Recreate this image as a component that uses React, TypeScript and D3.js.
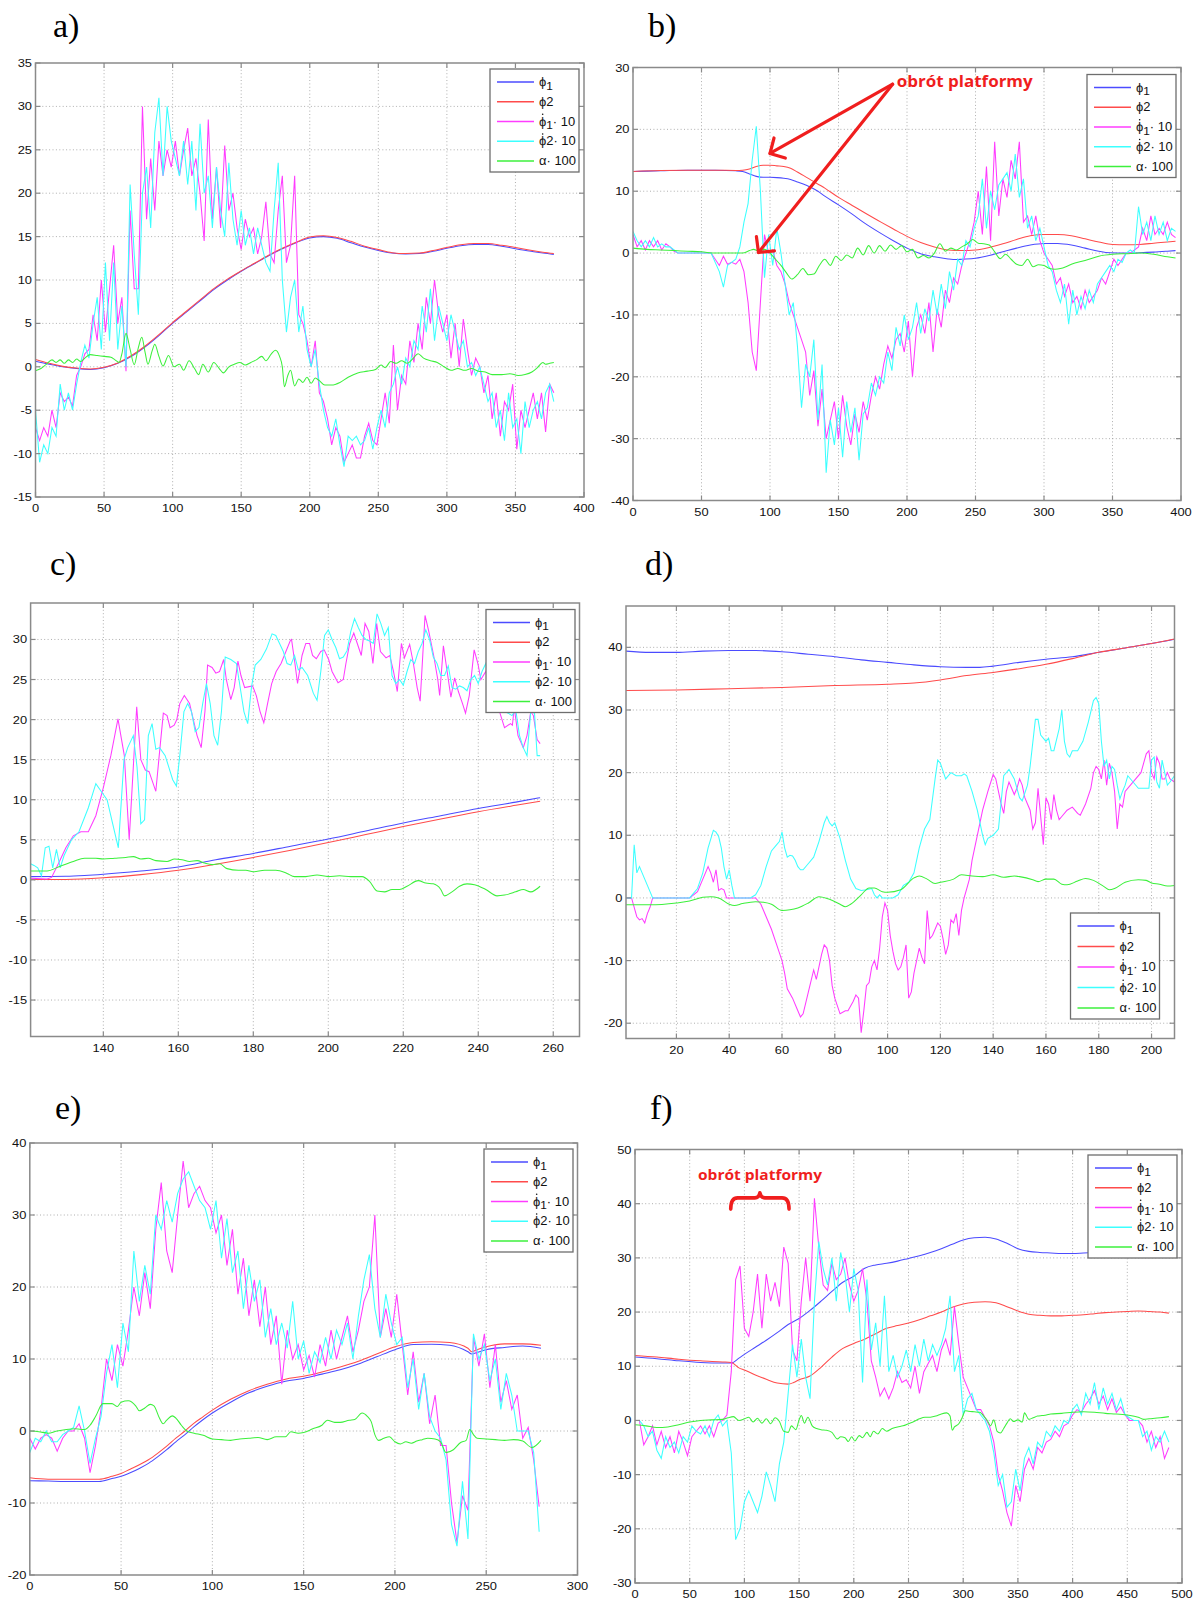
import React from "react";
import * as d3 from "d3";

type Pt = [number, number];

// ---------------- colours ----------------
const C_PHI1 = "#4b4bff";
const C_PHI2 = "#ff4b4b";
const C_PHI1DOT = "#ff3cff";
const C_PHI2DOT = "#3cffff";
const C_ALPHA = "#3cf03c";
const C_NOTE = "#f01e1e";

// ---------------- panel a ----------------
const aXTicks = [0, 50, 100, 150, 200, 250, 300, 350, 400];
const aYTicks = [-15, -10, -5, 0, 5, 10, 15, 20, 25, 30, 35];
const aPhi1: Pt[] = [[0,0.65],[10,0.3],[20,0],[30,-0.2],[40,-0.3],[50,-0.1],[60,0.4],[70,1.2],[80,2.3],[90,3.6],[100,5.0],[110,6.3],[120,7.6],[130,8.9],[140,10.0],[150,11.0],[160,11.9],[170,12.8],[180,13.6],[190,14.3],[200,14.85],[210,15.0],[220,14.8],[230,14.3],[240,13.8],[250,13.4],[260,13.1],[270,13.0],[280,13.05],[290,13.3],[300,13.65],[310,13.95],[320,14.1],[330,14.1],[340,13.9],[350,13.6],[360,13.35],[370,13.1],[378,12.95]];
const aPhi2: Pt[] = [[0,0.85],[10,0.4],[20,0.05],[30,-0.15],[40,-0.25],[50,-0.05],[60,0.45],[70,1.3],[80,2.4],[90,3.7],[100,5.1],[110,6.4],[120,7.7],[130,9.0],[140,10.1],[150,11.05],[160,11.95],[170,12.85],[180,13.65],[190,14.35],[200,14.95],[210,15.1],[220,14.9],[230,14.45],[240,13.9],[250,13.5],[260,13.15],[270,13.05],[280,13.1],[290,13.4],[300,13.75],[310,14.05],[320,14.2],[330,14.2],[340,14.0],[350,13.75],[360,13.45],[370,13.2],[378,13.05]];
const aAlpha: Pt[] = [[0,-0.45],[4,-0.2],[8,0.3],[12,0.8],[15,0.5],[18,0.8],[21,0.4],[24,0.8],[27,0.5],[30,0.9],[33,0.6],[36,1.0],[40,1.4],[45,1.3],[50,1.2],[55,1.1],[58,0.8],[61,0.5],[63,1.5],[66,3.85],[69,2.0],[72,0.25],[75,2.2],[77.5,3.4],[80,1.6],[82,0.3],[85,1.8],[87,2.6],[90,1.2],[93,0.1],[97,1.3],[101,0],[105,0.3],[108,-0.4],[112,0.7],[116,-0.2],[119,-0.9],[122,0.3],[126,-0.6],[130,0.5],[134,-0.2],[137,-0.7],[141,0],[145,0.3],[149,0.5],[153,0.2],[157,0.5],[161,0.8],[165,1.2],[168,0.7],[172,1.5],[175,1.9],[178,1.2],[180,0],[181.5,-2.3],[184,-1],[186,-0.4],[189,-2.2],[192,-1.4],[195,-1.8],[198,-1.2],[201,-1.9],[204,-1.3],[207,-1.6],[211,-2.1],[216,-2.1],[222,-1.8],[228,-1.2],[235,-0.7],[242,-0.5],[248,-0.3],[252,0.2],[255,-0.1],[259,0.6],[263,0.4],[267,0.7],[271,0.4],[275,0.9],[279,1.5],[283,1.0],[288,0.7],[293,0.5],[298,0],[303,-0.4],[308,-0.2],[313,-0.4],[318,-0.2],[323,-0.5],[328,-0.6],[333,-0.9],[340,-0.9],[346,-0.8],[352,-1.0],[357,-0.9],[362,-0.6],[366,-0.1],[370,0.5],[372,0.3],[375,0.4],[378,0.5]];
const aDotStep = 3;
const aPhi1Dot = [-7,-8.5,-7,-8,-5,-7,-3,-4,-3.5,-4.5,-1,0,1.5,2,6,3,10,4,9,14,5,8,-0.5,18,9,9,30,17,24,18,26,22,25,23,26,22,25,27.5,22,24,20,14.5,28.5,17,23,16,25.5,18,20,16,13.5,17,15,16,13,15,19,13,12,18,22,12,14,22,6,5,3,0,3,-3,-4,-6,-9,-7,-8,-11,-10,-9,-10.5,-10.5,-8,-6.5,-8.5,-9,-6,-3,-6.5,2.5,-5,-1,-2,3,0.5,5,2,8,5,10,6,4,6,1,5,0,5.5,2,-1,1,0,-3,-1,-6,-3,-8,-4,-5,-2,-9.5,-5,-7,-5,-3,-6,-3,-7.5,-2,-3];
const aPhi2Dot = [-5,-11,-9,-10,-7,-8,-2,-5,-3,-5,-2,0.5,2.5,1,5,8,2,12,3,12,2,7,0,21,13,6,20,23,16,27,31,22,30,26,24,22,26,21,26,18,28,20,22,16,23,18,15,23.5,17,14,18,14,16,13,16,14,12,11,18,23.5,10,4,8,10,4,7,2,0,2,-2,-5,-7,-8,-6,-9,-11.5,-8,-8.5,-8,-9,-8.5,-7,-9.5,-7,-5,-7,-3,-2,0,-2,1,0,3,2,7,4,9,3,7,5,3,6,4,2,3,0,0.5,-1,0,-2,-4,-3,-7,-5,-8.5,-3,-7,-6,-10,-4,-7,-5,-4,-6,-3,-2,-4];

// ---------------- panel b ----------------
const bXTicks = [0, 50, 100, 150, 200, 250, 300, 350, 400];
const bYTicks = [-40, -30, -20, -10, 0, 10, 20, 30];
const bPhi1: Pt[] = [[0,13.2],[20,13.3],[40,13.4],[60,13.4],[75,13.3],[80,13.2],[85,12.8],[90,12.4],[95,12.25],[100,12.25],[105,12.2],[110,12.1],[115,11.9],[120,11.5],[130,10.6],[135,10.0],[140,9.2],[150,7.8],[160,6.3],[168,5.0],[180,3.3],[190,2.0],[200,0.8],[210,-0.1],[220,-0.6],[230,-0.95],[236,-1.05],[240,-1.0],[250,-0.85],[260,-0.4],[270,0.2],[280,0.8],[290,1.3],[300,1.55],[310,1.55],[320,1.3],[330,0.8],[340,0.3],[348,0.05],[360,0],[370,0.05],[380,0.15],[390,0.3],[396,0.4]];
const bPhi2: Pt[] = [[0,13.2],[20,13.35],[40,13.4],[60,13.4],[75,13.35],[80,13.4],[85,13.6],[90,14.0],[95,14.2],[100,14.2],[105,14.1],[110,14.0],[115,13.7],[120,13.1],[130,11.8],[140,10.5],[150,9.0],[160,7.7],[170,6.4],[181,5.0],[190,3.9],[200,2.7],[210,1.7],[220,1.0],[230,0.5],[240,0.4],[250,0.5],[260,0.9],[270,1.5],[280,2.2],[290,2.8],[300,3.0],[310,3.0],[320,2.8],[330,2.3],[340,1.8],[350,1.4],[360,1.35],[370,1.4],[380,1.6],[390,1.8],[396,1.9]];
const bAlpha: Pt[] = [[0,0.8],[10,0.6],[20,0.5],[30,0.4],[40,0.3],[50,0.2],[60,0],[70,0],[80,0],[85,0.4],[88,0.6],[92,0.3],[96,0.6],[100,0],[104,-1],[108,-2],[112,-3.2],[116,-4.2],[120,-3.5],[124,-2.5],[128,-3.5],[132,-3.4],[136,-2],[140,-1.0],[144,-2],[148,-0.5],[152,-1.2],[156,-0.3],[160,-0.8],[164,0.8],[168,-0.3],[172,1.2],[176,0],[180,1.2],[184,0.3],[188,1.3],[192,0.6],[196,1.2],[200,0.2],[204,0.6],[208,-0.8],[212,-0.4],[216,-0.8],[220,0],[224,1.5],[228,0.3],[232,0.8],[236,0.5],[240,1],[244,1.5],[248,2.2],[252,1.6],[256,1.5],[260,1.3],[264,0.2],[268,-0.9],[272,-0.2],[276,-1.0],[280,-1.8],[284,-2.0],[288,-1.0],[292,-2.2],[296,-1.9],[300,-2.0],[304,-2.5],[308,-2.6],[312,-2.5],[316,-2.2],[320,-1.8],[330,-1.2],[340,-0.5],[350,-0.2],[360,-0.1],[370,0],[380,-0.2],[390,-0.6],[396,-0.8]];
const bDotStep = 3;
const bPhi1Dot = [3,1,2,0.5,2,1,2,0.5,1.5,1,0.3,0,0,0,0,0,0,0,0,0,-1,-2,-0.5,-1.8,-1.5,-1.8,-1,-3,-8,-16,-19,-8,3,0,0.5,-2,-3,-5,-8,-10,-12,-14,-16,-23,-19,-28,-22,-30,-27,-24,-30,-23,-28,-31,-26,-29,-24,-27,-23,-20,-22,-18,-15,-17,-14,-13,-16,-11,-20,-12,-10,-13,-8,-16,-9,-12,-6,-8,-4,-5,-2,0,2,5,10,3,14,2,18,6,12,9,15,12,18,5,6,3,6,2,0,-1,-2,-5,-4,-7,-5,-8,-7,-9,-6,-8,-7,-6,-4,-5,-3,-1,-2,-1,0,0,0.5,1,4,2,6,3,4,3,5,3,2.5];
const bPhi2Dot = [3.5,2,1,2,1,2.5,1,1.5,1,1,0.5,0,0,0,0,0,0,0,0,0,-1.5,-3,-5.5,-2,-1.5,-1,1,5,8,15,20.5,10,-4,3,-2,4,0,-5,-10,-8,-15,-25,-18,-20,-14,-27,-18,-35.5,-27,-31,-25,-33,-24,-29,-25,-33.5,-26,-25,-21,-23,-20,-21,-16,-19,-12,-15,-10,-14,-12,-8,-13,-9,-11,-6,-10,-5,-9,-3,-6,-1,-2,2,1,4,6,12,4,10,7,11,12,13,10,16,9,12,4,6,2,4,1,-2,-3,-6,-8,-5,-11.5,-6,-10,-7,-9,-6,-8,-5,-4,-3,-2,-3,-1,-1.5,0,0.5,0,7.5,3,5,2,6,3,5,2,4,3.5];
// annotation anchors (data units)
const bNoteText = "obrót platformy";
const bNoteAt: Pt = [192.5, 26.85];
const bArrowFrom: Pt = [189.5, 27.3];
const bArrowTips: Pt[] = [[100, 16.1], [91.6, 0.1]];

// ---------------- panel c ----------------
const cXTicks = [140, 160, 180, 200, 220, 240, 260];
const cYTicks = [-15, -10, -5, 0, 5, 10, 15, 20, 25, 30];
const cPhi1: Pt[] = [[120.6,0.4],[130,0.45],[135,0.55],[140,0.7],[150,1.1],[160,1.6],[170,2.5],[180,3.3],[190,4.2],[200,5.1],[210,6.1],[220,7.1],[230,8.0],[240,8.9],[250,9.7],[256.5,10.25]];
const cPhi2: Pt[] = [[120.6,0.05],[130,0.05],[140,0.25],[150,0.65],[160,1.2],[170,1.95],[180,2.8],[190,3.7],[200,4.65],[210,5.65],[220,6.65],[230,7.6],[240,8.5],[250,9.3],[256.5,9.8]];
const cAlpha: Pt[] = [[120.6,1.1],[125,1.1],[128,1.6],[132,2.3],[135,2.7],[138,2.7],[140,2.6],[143,2.7],[146,2.8],[148,2.9],[150,2.6],[152,2.7],[154,2.4],[157,2.3],[159,2.6],[161,2.5],[163,2.3],[165,2.4],[167,2.1],[169,1.9],[171,2.0],[173,1.4],[176,1.2],[178,1.2],[180,1.0],[183,1.2],[186,1.2],[189,0.8],[191,0.4],[194,0.4],[197,0.6],[200,0.4],[203,0.5],[206,0.4],[209,0.4],[211,-0.2],[213,-1.4],[215,-1.5],[217,-1.2],[219,-1.2],[221,-0.8],[224,-0.1],[226,-0.4],[228,-0.5],[230,-1.2],[231,-2.0],[233,-1.5],[235,-0.8],[237,-0.5],[239,-0.6],[242,-1.2],[245,-2.0],[247,-1.9],[250,-1.5],[252,-1.2],[254,-1.5],[256.5,-0.8]];
const cPhi1Dot: Pt[] = [[120.6,0.2],[125,0.1],[126.2,0.3],[128,2],[130,4],[132,5.5],[134,6],[136,6],[138,8],[140,11.5],[142,15.5],[143.9,20.1],[145.6,15.5],[146.9,5],[148.9,21.6],[150,15],[151.2,13.7],[152.2,13.5],[154,11.05],[154.8,15],[156,20.8],[157,20.5],[157.8,19],[158.9,19.3],[159.6,20],[160.4,22],[161.6,23],[163,22],[164,20],[165,18],[166.1,16.5],[167.1,21],[167.8,26.8],[169,26.5],[170,25.8],[171,26],[172.1,27.5],[172.8,25],[174,22.5],[174.9,24],[175.9,27.3],[176.7,25.5],[177.7,24],[179.8,24.2],[180.8,23],[181.8,21],[182.8,19.6],[183.8,22],[184.9,24.5],[186.1,26],[187.4,27],[189.9,29.9],[190.2,30],[191.1,27],[191.8,24.5],[193,28],[194,29.5],[195,29.5],[195.8,28],[196.8,27.6],[198,28.5],[198.9,28.7],[200.1,27.5],[201,26],[202.6,24.6],[204,25],[204.7,27],[205.7,29.5],[206.8,30.8],[208.8,28],[209.8,32],[210.8,31],[211.9,27],[212.9,32],[213.9,28.5],[215.4,27.7],[216.4,28],[217.4,26],[218.4,23.5],[219.5,29.5],[220.3,27.7],[221.7,29.4],[222.7,27],[223.7,24],[224.5,22.3],[225.8,33],[226.8,31],[228.1,28],[229.2,25],[229.7,23],[230.7,29.2],[231.7,26],[232.7,22.8],[233.7,25.2],[234.7,23.5],[235.8,22],[236.6,20.8],[237.6,23],[238.9,28.7],[239.9,27],[240.7,25],[242,26],[243.5,24],[245,22],[247,19],[248.6,19.5],[249.1,19.3],[249.6,21.5],[250.6,18],[252,16.5],[253,18],[254,21],[254.7,20.5],[255.7,17.5],[256.5,17]];
const cPhi2Dot: Pt[] = [[120.6,2],[121.5,1.8],[122.5,1.5],[123.5,0.5],[124.5,4],[125.5,4.2],[126.5,1.5],[127.5,3.8],[128.5,1.5],[129.5,3],[131.5,5],[133.5,6],[136,9],[138,12],[139.5,11],[141,10],[142.5,7],[144,4],[145.5,15],[146.5,16.5],[148,18],[149,14],[150,7],[151,7.5],[152,18],[153,19.5],[154,16.3],[155,16.5],[156.5,15.5],[157.5,14],[158.5,12.5],[159.5,11.7],[160.5,16],[161.5,21],[162.5,22],[163.5,21],[164.5,18.5],[165.5,19],[166.5,22],[167.5,24.5],[168.5,22],[169.5,18],[170.5,16.8],[171.5,21],[172.5,27.8],[174,27.5],[175.5,27],[176.5,24],[177.5,21],[178.5,19.5],[179.5,24],[180.5,26.8],[182,27.5],[183.5,28.8],[185,30.7],[186,30.5],[187,29.5],[188,28.5],[189,27],[190,26.8],[191,28],[192,26.2],[193,26.5],[194.5,25.5],[196,23.3],[197,22.4],[198,26],[199,30.5],[200,31.2],[201,30],[202,29],[203,27.6],[204,27.8],[205,28.6],[206,31],[207,32.6],[208,31.5],[209,30.5],[210,30],[211,29.8],[212,29.5],[213,33.2],[214,32],[215,30.5],[216,31.5],[217,25.5],[218,24.5],[219,25],[220,24.3],[221,26],[222,27.5],[223,27],[224,28.5],[225,29.5],[226,31.2],[227,30],[228,27.8],[229,27],[230,25.5],[231,25.5],[232,26.7],[233,24],[234,23.8],[235,24.2],[236,24],[237,23.6],[238,25],[239,25.5],[240,24.5],[241,26],[242,27],[244,24],[246,21],[247,21],[248,20.8],[249,20.5],[250,21.2],[251,18],[252,16.5],[253,15.5],[254,21],[255,20.8],[255.7,15.5],[256.5,15.5]];

// ---------------- panel d ----------------
const dXTicks = [20, 40, 60, 80, 100, 120, 140, 160, 180, 200];
const dYTicks = [-20, -10, 0, 10, 20, 30, 40];
const dPhi1: Pt[] = [[0.9,39.4],[10,39.2],[20,39.2],[30,39.4],[40,39.5],[50,39.5],[60,39.3],[70,38.9],[80,38.5],[90,38.0],[100,37.6],[110,37.2],[120,36.9],[130,36.8],[135,36.8],[140,37.0],[150,37.6],[160,38.1],[170,38.5],[180,39.2],[190,39.9],[200,40.6],[208.7,41.3]];
const dPhi2: Pt[] = [[0.9,33.1],[20,33.2],[40,33.4],[60,33.6],[80,33.9],[100,34.1],[110,34.3],[120,34.8],[130,35.5],[140,36.0],[150,36.6],[160,37.3],[170,38.2],[180,39.2],[190,39.9],[200,40.6],[208.7,41.35]];
const dAlpha: Pt[] = [[0.9,-1.1],[10,-1.1],[20,-0.8],[25,-0.5],[30,0.1],[33,0.2],[36,0],[40,-1.0],[42,-1.2],[45,-0.9],[50,-0.6],[53,-0.7],[56,-1.0],[60,-2.0],[63,-1.9],[66,-1.6],[70,-0.8],[74,0.2],[78,-0.2],[82,-1.0],[84,-1.4],[86,-1.0],[90,0.5],[93,1.6],[95,1.6],[98,1.0],[100,0.9],[105,1.3],[110,3.2],[112,3.5],[115,3.0],[118,2.3],[120,2.5],[125,3.0],[128,3.7],[132,3.5],[136,3.4],[140,3.7],[144,3.3],[148,3.5],[150,3.4],[155,2.9],[157,2.6],[160,3.0],[163,3.0],[166,2.2],[168,2.1],[172,2.7],[175,3.1],[178,2.8],[182,1.8],[184,1.3],[186,1.5],[190,2.5],[195,2.9],[198,2.8],[200,2.4],[203,2.2],[206,1.9],[208.7,2.0]];
const dPhi1Dot: Pt[] = [[0.9,0],[3,0],[4,-1.5],[5,-3],[6,-3.5],[7,-3.3],[8,-4],[9,-2.5],[10,-1.5],[11,0],[20,0],[25,0],[28,1],[30,3],[32,5],[33,4],[34,2.5],[35,4.5],[36,1.2],[37,1.5],[38,1.3],[39,0],[40,0],[45,0],[50,0],[52,-1],[54,-3],[56,-5],[58,-7.5],[60,-10],[61,-12],[62,-14.5],[64,-16],[66,-18],[67,-19],[68,-18.5],[70,-15],[72,-11.5],[73,-13],[74,-11],[75,-9],[76,-7.5],[77,-8],[78,-10],[79,-14],[80,-16],[82,-18.5],[84,-18],[85,-18],[87,-16.5],[88,-15.5],[89,-16],[90,-21.5],[91,-18],[92,-14],[93,-13.5],[94,-11],[95,-10],[96,-11.5],[97,-8],[98,-3],[99,-0.8],[100,-2],[101,-6],[102,-8.5],[103,-10.5],[104,-11.5],[105,-11],[106,-9.5],[107,-7.5],[108,-16],[109,-15],[110,-12],[111,-10],[112,-8],[113,-9.5],[114,-10.5],[115,-2],[116,-6.5],[117,-6],[118,-5],[119,-4],[120,-4.5],[121,-6.5],[122,-9],[123,-7.5],[124,-3.5],[125,-4],[126,-2.5],[127,-6],[128,-2],[129,0],[130,1.5],[131,3],[132,6],[134,10],[136,14],[138,17],[140,19.7],[141,19],[142,17],[143,15],[144,13.5],[145,17],[146,18.5],[147,17.5],[148,16.5],[149,17.5],[150,19],[151,18],[152,16],[153,15],[154,14],[155,11],[156,12],[157,17.5],[158,13],[159,8.5],[160,16],[161,15],[162,12.5],[163,16.5],[164,14],[165,12.5],[166,13],[168,14],[170,14.5],[172,13.5],[173,13.2],[175,15],[177,17.5],[178,20],[179,21],[180,20.5],[181,19],[182,22],[183,18],[184,21.5],[185,20],[186,17],[187,11],[188,15],[189,14.5],[190,17],[192,18],[194,19],[196,20],[198,23],[199,23.5],[200,20],[201,19],[202,22.5],[203,21.5],[204,19],[205,19],[206,20],[207,19],[208.7,18.5]];
const dPhi2Dot: Pt[] = [[0.9,0],[3,0],[4,8.5],[5,4],[6,5],[7,4],[8,3],[9,2],[10,1],[11,0],[20,0],[25,0],[28,1.5],[30,4],[32,8],[34,10.8],[35,10.5],[36,9.8],[37,8],[38,5],[39,3],[40,4.5],[41,2],[42,0],[45,0],[48,0],[50,0.5],[52,2],[54,5],[56,7.5],[58,8.5],[59,9],[60,10.5],[61,8],[62,6.5],[63,6.8],[64,6.7],[65,6],[66,5],[67,4.5],[68,4.5],[70,5.5],[72,6.5],[74,9],[76,12],[77,13],[78,12],[79,11.5],[80,12],[82,9.5],[84,6],[86,3],[88,1.5],[90,1.2],[92,1.3],[94,1.5],[95,0.5],[96,0],[97,0.5],[98,0],[100,0],[102,0],[104,0.5],[106,2],[108,2.5],[110,4],[112,8],[114,11],[116,12.5],[118,19],[119,22],[120,21.5],[122,19],[124,20],[126,19.5],[128,19.5],[129,19.8],[130,19.5],[132,17],[134,14],[136,10],[137,8.5],[138,9.5],[140,10],[142,11],[144,19.5],[146,20.5],[148,19],[150,16],[151,15.5],[153,18],[154,21],[156,28.5],[157,28.5],[158,26],[160,25],[161,25.5],[162,23.5],[163,23.5],[165,27],[166,30],[167,25],[168,23],[169,22.5],[170,23.5],[172,23.5],[174,25],[176,28],[178,31.5],[179,32],[180,31],[181,25],[182,21],[183,22],[184,19],[185,21],[186,20.5],[187,18],[188,15.8],[189,17],[190,18],[191,19.5],[193,18.5],[195,17.5],[197,17.5],[199,17.5],[200,22],[201,22.5],[202,18.5],[203,17.5],[204,22],[205,20],[206,18],[207,18.5],[208.7,19.5]];

// ---------------- panel e ----------------
const eXTicks = [0, 50, 100, 150, 200, 250, 300];
const eYTicks = [-20, -10, 0, 10, 20, 30, 40];
const ePhi1: Pt[] = [[0,-6.9],[10,-6.95],[20,-7.0],[30,-7.0],[38,-7.0],[45,-6.6],[50,-6.3],[55,-5.8],[60,-5.2],[65,-4.5],[70,-3.6],[75,-2.6],[80,-1.5],[85,-0.5],[90,0.6],[95,1.6],[100,2.5],[110,4.0],[120,5.3],[130,6.2],[140,6.9],[150,7.3],[160,7.9],[170,8.5],[180,9.3],[190,10.3],[200,11.3],[210,12.0],[220,12.05],[230,11.9],[240,11.0],[242,10.7],[245,10.9],[250,11.3],[260,11.6],[270,11.8],[280,11.5]];
const ePhi2: Pt[] = [[0,-6.5],[10,-6.7],[38,-6.7],[45,-6.3],[50,-5.9],[55,-5.3],[60,-4.7],[65,-4.0],[70,-3.1],[75,-2.1],[80,-1.0],[85,0],[90,1.1],[95,2.0],[100,2.9],[110,4.4],[120,5.6],[130,6.5],[140,7.2],[150,7.6],[160,8.2],[170,8.9],[180,9.7],[190,10.7],[200,11.7],[210,12.3],[220,12.4],[230,12.3],[240,11.5],[242,11.0],[245,11.3],[250,11.7],[260,12.1],[270,12.1],[280,11.9]];
const eAlpha: Pt[] = [[0,0],[5,-0.1],[10,-0.3],[15,0],[20,0.2],[25,0.3],[30,0.2],[33,0.8],[36,2.0],[40,3.8],[45,3.8],[48,3.4],[50,4.0],[54,4.2],[58,3.5],[60,2.8],[63,3.2],[66,3.7],[68,3.5],[71,1.8],[73,1.0],[75,1.5],[78,2.1],[80,1.8],[83,0.8],[86,0],[90,-0.3],[95,-0.6],[100,-1.1],[105,-1.2],[110,-1.3],[115,-1.1],[120,-1.0],[125,-0.9],[130,-1.2],[135,-0.8],[140,-0.8],[143,-0.1],[147,-0.3],[150,-0.2],[155,0.3],[160,0.8],[163,1.5],[167,1.2],[170,1.2],[175,1.5],[178,1.6],[182,2.5],[185,2.0],[187,1.3],[189,-0.5],[191,-1.3],[194,-1.0],[197,-0.8],[200,-1.5],[203,-1.8],[206,-1.5],[209,-1.7],[212,-1.4],[215,-1.2],[218,-1.0],[222,-1.1],[225,-1.5],[228,-3.0],[232,-2.6],[236,-1.6],[239,-1.3],[241,0.2],[243,-0.5],[245,-1.0],[250,-1.1],[255,-1.2],[260,-1.3],[265,-1.2],[270,-1.4],[275,-2.3],[280,-1.3]];
const eDotStep = 3;
const ePhi1Dot = [-1,-2.5,-1,-0.5,-1,-2.8,-1,0,0,1,-1,-5.8,-2,3,10,7,12,9,14,20,16,22,17,28,34.5,25,22,30,37.5,31,33,34,32,31,27.5,30,23,28,19,24,16,21,14.5,20,12,16,6.5,14,10,12,8.5,10.5,7.5,12,9,14,10,13,16,11,14,18,20,30,13,17,13,19,12,5,11,4,8,1,5,-2,-2,-10,-15.5,-9,-11,13,9,13.5,6,12,4,7,3,5,-1,0.5,-4,-10.5];
const ePhi2Dot = [-3,-1,-1.5,0,-1.5,-1.5,-0.5,0,0.5,3.5,0,-4.5,-1,2,8,12,6,15,11,25,18,23,19,30,28,32,29,33,35,36,34,32,31,28,32,24,29.5,22,25,17,23,18,21,13,17,12,15,11.5,18,10,12.5,8,11,9.5,13,10,14,12,15,10,16,21,24.5,17,13,19,15,12,13,6,10,3,8,2,0,-1,-4,-13,-16,-7,-15,13.5,10,12,7,10,3,8,5,0,0,0,-3,-14];

// ---------------- panel f ----------------
const fXTicks = [0, 50, 100, 150, 200, 250, 300, 350, 400, 450, 500];
const fYTicks = [-30, -20, -10, 0, 10, 20, 30, 40, 50];
const fPhi1: Pt[] = [[0,11.7],[20,11.4],[40,11.0],[60,10.7],[80,10.6],[88,10.6],[95,11.5],[100,12.2],[110,13.5],[120,14.8],[130,16.2],[140,17.7],[150,18.8],[160,20.3],[170,22.0],[180,23.8],[190,25.5],[200,26.6],[210,28.1],[220,28.7],[230,29.0],[240,29.4],[250,29.9],[260,30.4],[270,31.0],[280,31.7],[290,32.5],[300,33.3],[310,33.7],[320,33.8],[330,33.5],[340,32.7],[350,31.7],[360,31.2],[370,31.0],[380,30.9],[390,30.8],[400,30.8],[410,30.9],[420,31.0],[430,31.1],[440,31.2],[450,31.1],[460,31.0],[475,31.0],[488,31.0]];
const fPhi2: Pt[] = [[0,12.0],[20,11.7],[40,11.3],[60,11.0],[80,10.8],[88,10.7],[95,9.7],[100,9.3],[110,8.4],[120,7.6],[130,6.9],[140,6.7],[145,7.0],[150,7.5],[160,8.2],[170,9.8],[180,11.7],[190,13.3],[200,14.2],[210,15.0],[220,16.0],[230,17.0],[240,17.5],[250,18.0],[260,18.6],[270,19.3],[280,20.0],[290,20.9],[300,21.5],[310,21.8],[320,21.9],[330,21.7],[340,21.0],[350,20.2],[360,19.6],[370,19.4],[380,19.3],[390,19.3],[400,19.4],[410,19.5],[420,19.7],[430,19.9],[440,20.0],[450,20.1],[460,20.2],[470,20.1],[480,20.0],[488,19.8]];
const fAlpha: Pt[] = [[0,-0.8],[10,-1.0],[20,-1.3],[30,-1.2],[40,-0.8],[50,-0.3],[60,0],[70,0.1],[80,0.2],[85,0.5],[90,0.7],[95,0],[100,0.3],[104,0.6],[108,-0.3],[112,0.4],[116,-0.5],[120,0.3],[124,-0.6],[128,0.5],[132,-0.2],[136,-2.0],[140,-2.2],[143,-1.0],[147,-1.7],[150,0.1],[152,0.9],[155,-0.5],[158,0.6],[162,-1.0],[166,-1.5],[170,-1.7],[175,-1.8],[180,-2.2],[185,-3.4],[188,-3.0],[192,-3.2],[195,-3.9],[198,-3.0],[201,-3.8],[205,-2.8],[208,-3.2],[212,-2.2],[215,-3.0],[218,-2.0],[222,-2.5],[226,-1.5],[230,-2.0],[235,-1.5],[240,-1.2],[245,-1.0],[250,-0.6],[255,-0.2],[260,0.3],[265,0.6],[270,0.6],[275,0.8],[280,1.2],[285,1.4],[288,0.8],[290,-1.8],[292,-1.2],[296,-0.6],[299,0.5],[302,1.8],[305,1.7],[310,1.6],[315,1.5],[320,0.5],[322,0],[325,-1.0],[328,0.1],[331,-2.0],[334,-2.3],[337,-1.5],[340,-0.5],[343,0.3],[346,-0.2],[350,0.1],[354,-0.3],[356,1.4],[360,0.2],[364,0.5],[368,0.8],[372,0.9],[376,1.0],[380,1.2],[390,1.3],[400,1.5],[410,1.6],[420,1.5],[430,1.3],[440,1.2],[450,1.0],[460,0.6],[465,0.2],[470,0.3],[480,0.5],[488,0.7]];
const fDotStep = 4;
const fPhi1Dot = [0,0,-4.5,-3,-1,-4.5,-2,-5,-3,-6,-2,-4,-6.5,-3,-2,-1,-2.5,-1,-3,-0.5,0,1,9,26,28.5,17,15.5,20,27,17,27,22,25.5,21,32,29,13,11,22,30,22,41,32,25,24,29,26,27,30,25,22,24,28,22,11,8,4.5,6,4,6,9,7,7.5,6,10,5,9,10.5,12,9,13,15,12,21,14,8,6,4,2,2,0.5,-1,-4,-10,-13,-17,-19.5,-12,-15,-9,-7,-9,-5,-6,-4,-3.5,-2,-3,-1,-0.5,1,2,1.5,3,4,5.5,3,4.5,2,4,1.5,2.5,1,0,0,0,-1,-4,-2,-5,-3,-7,-5];
const fPhi2Dot = [0,0,-1,-3,-2,-5.5,-7,-3,-5,-4,-6,-3,-4,-1,-2,-2.5,-1,-3,0,1,-1,0,-6,-22,-20,-15,-13,-15,-17,-14,-9.5,-12,-15,-8,-4,5,14,8,15,8,4,22,33,28,25,30,22,31,27,20,28,24,7,26,13,18,10,23,9,12,8,10,13,9,14,10,15,11,14,12,14,17,23,9,12,1,4,5,2,1,0,-2,-6,-12,-10,-16,-15,-9,-13,-7,-5,-8,-4,-5,-2,-3,-1,-2,0,-0.5,2,3,1,5,3,7,2,6,3,5,2,4,1,0.5,0,0,-3,-2,-5.5,-3,-4,-2,-4];
const fNoteText = "obrót platformy";
const fNoteAt: Pt = [114.3, 44.3];
const fBraceX: Pt = [87.5, 140.8];
const fBraceY: Pt = [39.0, 42.0];

// ---------------- legend ----------------
const LEGEND_ITEMS = [
  { color: C_PHI1, sym: "ϕ", dot: false, sub: "1", tail: "" },
  { color: C_PHI2, sym: "ϕ", dot: false, sub: "", tail: "2" },
  { color: C_PHI1DOT, sym: "ϕ", dot: true, sub: "1", tail: "· 10" },
  { color: C_PHI2DOT, sym: "ϕ", dot: true, sub: "", tail: "2· 10" },
  { color: C_ALPHA, sym: "α", dot: false, sub: "", tail: "· 100" },
];

const stepSeries = (vals: number[], step: number, x0 = 0): Pt[] =>
  vals.map((v, i) => [x0 + i * step, v] as Pt);

type Frame = { l: number; r: number; t: number; b: number };
interface PanelSpec {
  id: string;
  label: string;
  labelPos: [number, number];
  frame: Frame;
  xDomain: [number, number];
  yDomain: [number, number];
  xTicks: number[];
  yTicks: number[];
  phi1: Pt[];
  phi2: Pt[];
  phi1dot: Pt[];
  phi2dot: Pt[];
  alpha: Pt[];
  legend: { corner: "ne" | "se"; dx: number; dy: number; h: number };
  note?: "arrows" | "brace";
}

const PANELS: PanelSpec[] = [
  { id: "a", label: "a)", labelPos: [53, 37], frame: { l: 35.5, r: 584, t: 63, b: 497 }, xDomain: [0, 400], yDomain: [-15, 35], xTicks: aXTicks, yTicks: aYTicks, phi1: aPhi1, phi2: aPhi2, phi1dot: stepSeries(aPhi1Dot, aDotStep), phi2dot: stepSeries(aPhi2Dot, aDotStep), alpha: aAlpha, legend: { corner: "ne", dx: 5, dy: 6, h: 103 } },
  { id: "b", label: "b)", labelPos: [648, 37], frame: { l: 633, r: 1181, t: 67.5, b: 500.5 }, xDomain: [0, 400], yDomain: [-40, 30], xTicks: bXTicks, yTicks: bYTicks, phi1: bPhi1, phi2: bPhi2, phi1dot: stepSeries(bPhi1Dot, bDotStep), phi2dot: stepSeries(bPhi2Dot, bDotStep), alpha: bAlpha, legend: { corner: "ne", dx: 5, dy: 7, h: 103 }, note: "arrows" },
  { id: "c", label: "c)", labelPos: [50, 575], frame: { l: 30.6, r: 579.5, t: 603, b: 1036.5 }, xDomain: [120.6, 267], yDomain: [-19.55, 34.55], xTicks: cXTicks, yTicks: cYTicks, phi1: cPhi1, phi2: cPhi2, phi1dot: cPhi1Dot, phi2dot: cPhi2Dot, alpha: cAlpha, legend: { corner: "ne", dx: 4.5, dy: 6.5, h: 103 } },
  { id: "d", label: "d)", labelPos: [645, 575], frame: { l: 626, r: 1174.5, t: 606, b: 1038.5 }, xDomain: [0.9, 208.7], yDomain: [-22.44, 46.6], xTicks: dXTicks, yTicks: dYTicks, phi1: dPhi1, phi2: dPhi2, phi1dot: dPhi1Dot, phi2dot: dPhi2Dot, alpha: dAlpha, legend: { corner: "se", dx: 15, dy: 19.5, h: 106 } },
  { id: "e", label: "e)", labelPos: [55, 1119], frame: { l: 29.8, r: 577.5, t: 1143, b: 1575 }, xDomain: [0, 300], yDomain: [-20, 40], xTicks: eXTicks, yTicks: eYTicks, phi1: ePhi1, phi2: ePhi2, phi1dot: stepSeries(ePhi1Dot, eDotStep), phi2dot: stepSeries(ePhi2Dot, eDotStep), alpha: eAlpha, legend: { corner: "ne", dx: 4.5, dy: 6, h: 103 } },
  { id: "f", label: "f)", labelPos: [650, 1119], frame: { l: 635, r: 1182, t: 1149.5, b: 1583 }, xDomain: [0, 500], yDomain: [-30, 50], xTicks: fXTicks, yTicks: fYTicks, phi1: fPhi1, phi2: fPhi2, phi1dot: stepSeries(fPhi1Dot, fDotStep), phi2dot: stepSeries(fPhi2Dot, fDotStep), alpha: fAlpha, legend: { corner: "ne", dx: 5, dy: 5.5, h: 103 }, note: "brace" },
];

const SANS = "'Liberation Sans', Arial, 'DejaVu Sans', sans-serif";
const TICK_SX = 1.12;
const FRAME_COLOR = "#8a8a8a";

function TickText({ x, y, anchor, children }: { x: number; y: number; anchor: string; children: React.ReactNode }) {
  return (
    <text transform={`translate(${x},${y}) scale(${TICK_SX},1)`} textAnchor={anchor as any} fontSize={11.5} fontFamily={SANS} fill="#111">
      {children}
    </text>
  );
}

function Legend({ x, y, h }: { x: number; y: number; h: number }) {
  const w = 89;
  const gap = (h - 24) / 4;
  return (
    <g>
      <rect x={x} y={y} width={w} height={h} fill="#fff" stroke="#6e6e6e" strokeWidth={1.3} />
      {LEGEND_ITEMS.map((it, i) => {
        const ly = y + 13 + i * gap;
        return (
          <g key={i}>
            <line x1={x + 7} x2={x + 44} y1={ly} y2={ly} stroke={it.color} strokeWidth={1.3} />
            <g transform={`translate(${x + 49},${ly + 4}) scale(1.08,1)`}>
              <text fontSize={12} fontFamily={SANS} fill="#111">
                <tspan>{it.sym}</tspan>
                {it.sub ? <tspan dy={3.5} fontSize={11}>{it.sub}</tspan> : null}
                {it.tail ? <tspan dy={it.sub ? -3.5 : 0}>{it.tail}</tspan> : null}
              </text>
              {it.dot ? <circle cx={3.4} cy={-11.2} r={0.75} fill="#111" /> : null}
            </g>
          </g>
        );
      })}
    </g>
  );
}

function arrowHead(tip: [number, number], from: [number, number], len: number, angDeg: number) {
  const dx = from[0] - tip[0];
  const dy = from[1] - tip[1];
  const n = Math.hypot(dx, dy);
  const ux = dx / n, uy = dy / n;
  const pts = [-1, 1].map((s) => {
    const a = (s * angDeg * Math.PI) / 180;
    const rx = ux * Math.cos(a) - uy * Math.sin(a);
    const ry = ux * Math.sin(a) + uy * Math.cos(a);
    return [tip[0] + rx * len, tip[1] + ry * len];
  });
  return `M${pts[0][0]},${pts[0][1]}L${tip[0]},${tip[1]}L${pts[1][0]},${pts[1][1]}`;
}

function Panel({ p }: { p: PanelSpec }) {
  const { frame: f } = p;
  const x = d3.scaleLinear().domain(p.xDomain).range([f.l, f.r]);
  const y = d3.scaleLinear().domain(p.yDomain).range([f.b, f.t]);
  const smooth = d3.line<Pt>().x((d) => x(d[0])).y((d) => y(d[1])).curve(d3.curveMonotoneX);
  const raw = d3.line<Pt>().x((d) => x(d[0])).y((d) => y(d[1]));
  const clip = `clip-${p.id}`;
  const eps = 0.5;
  const innerX = p.xTicks.filter((t) => x(t) > f.l + eps && x(t) < f.r - eps);
  const innerY = p.yTicks.filter((t) => y(t) > f.t + eps && y(t) < f.b - eps);
  const visX = p.xTicks.filter((t) => x(t) >= f.l - eps && x(t) <= f.r + eps);
  const visY = p.yTicks.filter((t) => y(t) >= f.t - eps && y(t) <= f.b + eps);
  const lw = 89;
  const lx = f.r - p.legend.dx - lw;
  const ly = p.legend.corner === "ne" ? f.t + p.legend.dy : f.b - p.legend.dy - p.legend.h;

  let note: React.ReactNode = null;
  if (p.note === "arrows") {
    const from: [number, number] = [x(bArrowFrom[0]), y(bArrowFrom[1])];
    note = (
      <g stroke={C_NOTE} strokeWidth={3.2} fill="none" strokeLinecap="round" strokeLinejoin="round">
        {bArrowTips.map((t, i) => {
          const tip: [number, number] = [x(t[0]), y(t[1])];
          return (
            <g key={i}>
              <line x1={from[0]} y1={from[1]} x2={tip[0]} y2={tip[1]} />
              <path d={arrowHead(tip, from, 16, 46)} />
            </g>
          );
        })}
        <text x={x(bNoteAt[0])} y={y(bNoteAt[1])} fill={C_NOTE} stroke="none" fontSize={16} fontWeight={700} fontFamily="'Open Sans', 'Noto Sans', sans-serif" textLength={136} lengthAdjust="spacingAndGlyphs">
          {bNoteText}
        </text>
      </g>
    );
  } else if (p.note === "brace") {
    const x1 = x(fBraceX[0]), x2 = x(fBraceX[1]), xm = (x1 + x2) / 2;
    const yt = y(fBraceY[1]), yb = y(fBraceY[0]), yc = yt + 5;
    const d = `M${x1},${yb} Q${x1},${yc} ${x1 + 7},${yc} L${xm - 5},${yc} Q${xm - 1},${yc} ${xm},${yt} Q${xm + 1},${yc} ${xm + 5},${yc} L${x2 - 7},${yc} Q${x2},${yc} ${x2},${yb}`;
    note = (
      <g>
        <path d={d} stroke={C_NOTE} strokeWidth={3.6} fill="none" strokeLinecap="round" strokeLinejoin="round" />
        <text x={x(fNoteAt[0])} y={y(fNoteAt[1])} textAnchor="middle" fill={C_NOTE} fontSize={15} fontWeight={700} fontFamily="'Open Sans', 'Noto Sans', sans-serif" textLength={124} lengthAdjust="spacingAndGlyphs">
          {fNoteText}
        </text>
      </g>
    );
  }

  return (
    <g>
      <defs>
        <clipPath id={clip}>
          <rect x={f.l} y={f.t} width={f.r - f.l} height={f.b - f.t} />
        </clipPath>
      </defs>
      <text x={p.labelPos[0]} y={p.labelPos[1]} fontSize={34} fontFamily="'Liberation Serif', 'Times New Roman', serif" fill="#000">
        {p.label}
      </text>
      <rect x={f.l} y={f.t} width={f.r - f.l} height={f.b - f.t} fill="#fff" />
      {/* grid */}
      <g stroke="#9a9a9a" strokeWidth={0.8} strokeDasharray="1 2.4">
        {innerX.map((t) => (
          <line key={`gx${t}`} x1={x(t)} x2={x(t)} y1={f.t} y2={f.b} />
        ))}
        {innerY.map((t) => (
          <line key={`gy${t}`} x1={f.l} x2={f.r} y1={y(t)} y2={y(t)} />
        ))}
      </g>
      {/* series */}
      <g clipPath={`url(#${clip})`} fill="none" strokeWidth={1.05}>
        <path d={smooth(p.phi1) || ""} stroke={C_PHI1} />
        <path d={smooth(p.phi2) || ""} stroke={C_PHI2} />
        <path d={raw(p.phi1dot) || ""} stroke={C_PHI1DOT} />
        <path d={raw(p.phi2dot) || ""} stroke={C_PHI2DOT} />
        <path d={smooth(p.alpha) || ""} stroke={C_ALPHA} />
      </g>
      {/* frame + ticks */}
      <rect x={f.l} y={f.t} width={f.r - f.l} height={f.b - f.t} fill="none" stroke={FRAME_COLOR} strokeWidth={1.5} />
      <g stroke={FRAME_COLOR} strokeWidth={1.2}>
        {visX.map((t) => (
          <g key={`tx${t}`}>
            <line x1={x(t)} x2={x(t)} y1={f.b} y2={f.b - 5} />
            <line x1={x(t)} x2={x(t)} y1={f.t} y2={f.t + 5} />
          </g>
        ))}
        {visY.map((t) => (
          <g key={`ty${t}`}>
            <line x1={f.l} x2={f.l + 5} y1={y(t)} y2={y(t)} />
            <line x1={f.r} x2={f.r - 5} y1={y(t)} y2={y(t)} />
          </g>
        ))}
      </g>
      {visX.map((t) => (
        <TickText key={`lx${t}`} x={x(t)} y={f.b + 15} anchor="middle">
          {String(t)}
        </TickText>
      ))}
      {visY.map((t) => (
        <TickText key={`ly${t}`} x={f.l - 3.5} y={y(t) + 4} anchor="end">
          {String(t)}
        </TickText>
      ))}
      {note}
      <Legend x={lx} y={ly} h={p.legend.h} />
    </g>
  );
}

export default function App() {
  return (
    <svg width={1201} height={1600} style={{ position: "absolute", left: 0, top: 0, background: "#fff" }}>
      <rect x={0} y={0} width={1201} height={1600} fill="#fff" />
      {PANELS.map((p) => (
        <Panel key={p.id} p={p} />
      ))}
    </svg>
  );
}
